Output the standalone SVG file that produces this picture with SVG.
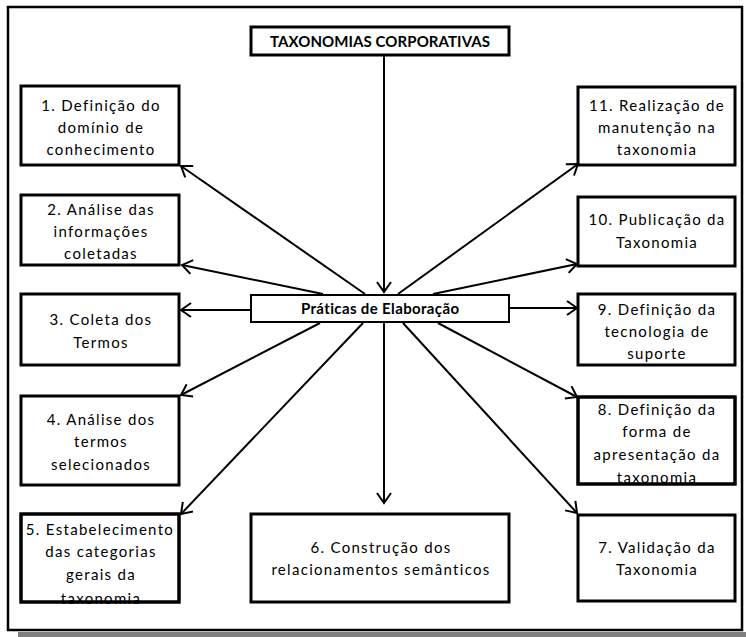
<svg xmlns="http://www.w3.org/2000/svg" width="746" height="637" viewBox="0 0 746 637">
  <style>
    .box { fill: #fff; stroke: #000; stroke-width: 3; }
    .edge { fill: none; stroke: #000; stroke-width: 3; }
    .hub { fill: #fff; stroke: #000; stroke-width: 2; }
    .lbl { font-family: Lato, "Liberation Sans", sans-serif; font-size: 15px; letter-spacing: 1.3px; fill: #000; text-anchor: middle; font-variant-ligatures: none; }
    .bold { font-family: Lato, "Liberation Sans", sans-serif; font-size: 15px; font-weight: bold; fill: #000; text-anchor: middle; font-variant-ligatures: none; }
    .conn line { stroke: #000; stroke-width: 2; marker-end: url(#vee); }
  </style>
  <defs>
    <marker id="vee" markerUnits="userSpaceOnUse" markerWidth="14" markerHeight="16" refX="11" refY="8" orient="auto">
      <path d="M1,1 L11,8 L1,15" fill="none" stroke="#000" stroke-width="2"/>
    </marker>
  </defs>

  <rect width="746" height="637" fill="#fff"/>
  <!-- page frame with drop shadow -->
  <rect x="18" y="632" width="728" height="5" fill="#808080"/>
  <rect x="8" y="7" width="734" height="623" fill="#fff" stroke="#000" stroke-width="2.5"/>

  <g id="connectors" class="conn">
    <line x1="384" y1="55" x2="384" y2="292"/>
    <line x1="365" y1="294" x2="181" y2="166"/>
    <line x1="323" y1="294" x2="182" y2="265"/>
    <line x1="251" y1="310" x2="181" y2="310"/>
    <line x1="320" y1="323" x2="181" y2="395"/>
    <line x1="363" y1="323" x2="181" y2="514"/>
    <line x1="384" y1="323" x2="384" y2="503"/>
    <line x1="403" y1="323" x2="577" y2="513"/>
    <line x1="438" y1="323" x2="577" y2="397"/>
    <line x1="509" y1="308" x2="577" y2="308"/>
    <line x1="433" y1="294" x2="577" y2="264"/>
    <line x1="398" y1="294" x2="578" y2="164"/>
  </g>

  <g id="title">
    <rect class="box" x="251" y="27" width="258" height="28"/>
    <text class="bold" x="380" y="47" textLength="220" lengthAdjust="spacing">TAXONOMIAS CORPORATIVAS</text>
  </g>

  <g id="hub">
    <rect class="hub" x="251" y="295" width="258" height="27"/>
    <text class="bold" x="380" y="314" textLength="158" lengthAdjust="spacing">Práticas de Elaboração</text>
  </g>

  <g id="n1">
    <rect class="box" x="21" y="86" width="158" height="79"/>
    <text class="lbl" x="101" y="111">1. Definição do</text>
    <text class="lbl" x="101" y="133">domínio de</text>
    <text class="lbl" x="101" y="155">conhecimento</text>
  </g>

  <g id="n2">
    <rect class="box" x="21" y="195" width="158" height="70"/>
    <text class="lbl" x="101" y="215">2. Análise das</text>
    <text class="lbl" x="101" y="237">informações</text>
    <text class="lbl" x="101" y="259">coletadas</text>
  </g>

  <g id="n3">
    <rect class="box" x="21" y="294" width="158" height="71"/>
    <text class="lbl" x="101" y="325">3. Coleta dos</text>
    <text class="lbl" x="101" y="348">Termos</text>
  </g>

  <g id="n4">
    <rect class="box" x="21" y="396" width="158" height="89"/>
    <text class="lbl" x="101" y="425">4. Análise dos</text>
    <text class="lbl" x="101" y="447">termos</text>
    <text class="lbl" x="101" y="470">selecionados</text>
  </g>

  <g id="n5">
    <rect class="box" x="21" y="514" width="158" height="88"/>
    <text class="lbl" x="100" y="535">5. Estabelecimento</text>
    <text class="lbl" x="101" y="557">das categorias</text>
    <text class="lbl" x="101" y="580">gerais da</text>
    <text class="lbl" x="101" y="604">taxonomia</text>
    <rect class="edge" x="21" y="514" width="158" height="88"/>
  </g>

  <g id="n6">
    <rect class="box" x="251" y="514" width="258" height="88"/>
    <text class="lbl" x="381" y="553">6. Construção dos</text>
    <text class="lbl" x="381" y="575">relacionamentos semânticos</text>
  </g>

  <g id="n7">
    <rect class="box" x="578" y="515" width="157" height="86"/>
    <text class="lbl" x="657" y="553">7. Validação da</text>
    <text class="lbl" x="657" y="575">Taxonomia</text>
  </g>

  <g id="n8">
    <rect class="box" x="578" y="397" width="157" height="87"/>
    <text class="lbl" x="657" y="415">8. Definição da</text>
    <text class="lbl" x="657" y="437">forma de</text>
    <text class="lbl" x="657" y="460">apresentação da</text>
    <text class="lbl" x="657" y="483">taxonomia</text>
    <rect class="edge" x="578" y="397" width="157" height="87"/>
  </g>

  <g id="n9">
    <rect class="box" x="578" y="294" width="157" height="71"/>
    <text class="lbl" x="657" y="315">9. Definição da</text>
    <text class="lbl" x="657" y="337">tecnologia de</text>
    <text class="lbl" x="657" y="359">suporte</text>
  </g>

  <g id="n10">
    <rect class="box" x="578" y="197" width="157" height="69"/>
    <text class="lbl" x="657" y="225">10. Publicação da</text>
    <text class="lbl" x="657" y="248">Taxonomia</text>
  </g>

  <g id="n11">
    <rect class="box" x="578" y="87" width="157" height="78"/>
    <text class="lbl" x="657" y="111">11. Realização de</text>
    <text class="lbl" x="657" y="133">manutenção na</text>
    <text class="lbl" x="657" y="155">taxonomia</text>
  </g>
</svg>
